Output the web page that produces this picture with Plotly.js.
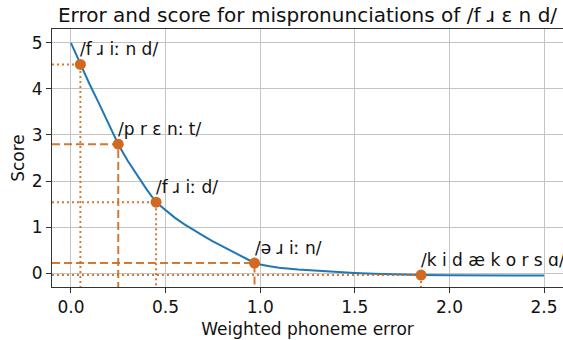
<!DOCTYPE html>
<html>
<head>
<meta charset="utf-8">
<script src="https://cdn.plot.ly/plotly-3.0.1.min.js"></script>
<style>html,body{margin:0;padding:0;background:#fff;}#chart{width:563px;height:340px;}</style>
</head>
<body>
<div id="chart"></div>
<script>
// Curve samples
const curveX = [0, 0.05, 0.1, 0.15, 0.2, 0.25, 0.3, 0.35, 0.4, 0.45, 0.5, 0.55, 0.6, 0.65, 0.7, 0.75, 0.8, 0.85, 0.9, 0.95, 0.97, 1.0, 1.05, 1.1, 1.2, 1.3, 1.4, 1.5, 1.6, 1.7, 1.85, 2.0, 2.25, 2.5];
const curveY = [5.0, 4.53, 4.09, 3.67, 3.22, 2.80, 2.44, 2.12, 1.82, 1.54, 1.36, 1.20, 1.06, 0.93, 0.81, 0.69, 0.58, 0.47, 0.36, 0.265, 0.23, 0.19, 0.15, 0.12, 0.08, 0.05, 0.025, 0.005, -0.012, -0.025, -0.04, -0.045, -0.05, -0.05];

// Mispronunciation points
const pointX = [0.05, 0.25, 0.45, 0.97, 1.85];
const pointY = [4.53, 2.80, 1.54, 0.22, -0.04];
const pointLabels = ["/f ɹ iː n d/", "/p r ɛ n: t/", "/f ɹ iː d/", "/ə ɹ iː n/", "/k i d æ k o r s ɑ/"];
const lineStyles = ["dot", "dash", "dot", "dash", "dot"];

const xTicks = [0, 0.5, 1.0, 1.5, 2.0, 2.5];
const xTickText = ["0.0", "0.5", "1.0", "1.5", "2.0", "2.5"];
const yTicks = [0, 1, 2, 3, 4, 5];

const xRange = [-0.1, 2.6];
const yRange = [-0.3, 5.3];

const orange = "#d2691e";
const blue = "#1f77b4";
const font = "DejaVu Sans, Liberation Sans, sans-serif";

const traces = [];
traces.push({
  x: curveX, y: curveY, mode: "lines",
  line: {color: blue, width: 2},
  showlegend: false
});
// reference lines
pointX.forEach((px, i) => {
  traces.push({
    x: [xRange[0], px, px],
    y: [pointY[i], pointY[i], yRange[0]],
    mode: "lines",
    line: {color: orange, width: 2, dash: lineStyles[i] === "dot" ? "2px,3px" : "8px,4px"},
    opacity: 0.9,
    hoverinfo: "skip",
    showlegend: false
  });
});
traces.push({
  x: pointX, y: pointY, mode: "markers",
  marker: {color: orange, size: 11},
  showlegend: false
});

const annotations = pointX.map((px, i) => ({
  x: px, y: pointY[i], xref: "x", yref: "y",
  text: pointLabels[i], showarrow: false,
  xanchor: "left", yanchor: "bottom",
  xshift: -2, yshift: 3,
  font: {family: font, size: 17, color: "#111"}
}));

const layout = {
  width: 563, height: 340,
  margin: {l: 52, r: 0, t: 29, b: 53},
  paper_bgcolor: "#fff", plot_bgcolor: "#fff",
  title: {text: "Error and score for mispronunciations of /f ɹ ɛ n d/",
          font: {family: font, size: 20, color: "#111"},
          x: 307.5/563, xanchor: "center", y: 1 - 15/340, yanchor: "middle"},
  xaxis: {
    range: xRange, tickvals: xTicks, ticktext: xTickText,
    showgrid: true, gridcolor: "#c4c4c4", gridwidth: 1,
    zeroline: false, showline: true, linecolor: "#333", linewidth: 1, mirror: true,
    ticks: "outside", ticklen: 5, tickcolor: "#333",
    tickfont: {family: font, size: 17, color: "#111"},
    title: {text: "Weighted phoneme error", font: {family: font, size: 17, color: "#111"}, standoff: 6}
  },
  yaxis: {
    range: yRange, tickvals: yTicks,
    showgrid: true, gridcolor: "#c4c4c4", gridwidth: 1,
    zeroline: false, showline: true, linecolor: "#333", linewidth: 1, mirror: false,
    ticks: "outside", ticklen: 5, tickcolor: "#333",
    tickfont: {family: font, size: 17, color: "#111"},
    title: {text: "Score", font: {family: font, size: 17, color: "#111"}, standoff: 2}
  },
  annotations: annotations
};

Plotly.newPlot("chart", traces, layout, {displayModeBar: false, staticPlot: true});
</script>
</body>
</html>
